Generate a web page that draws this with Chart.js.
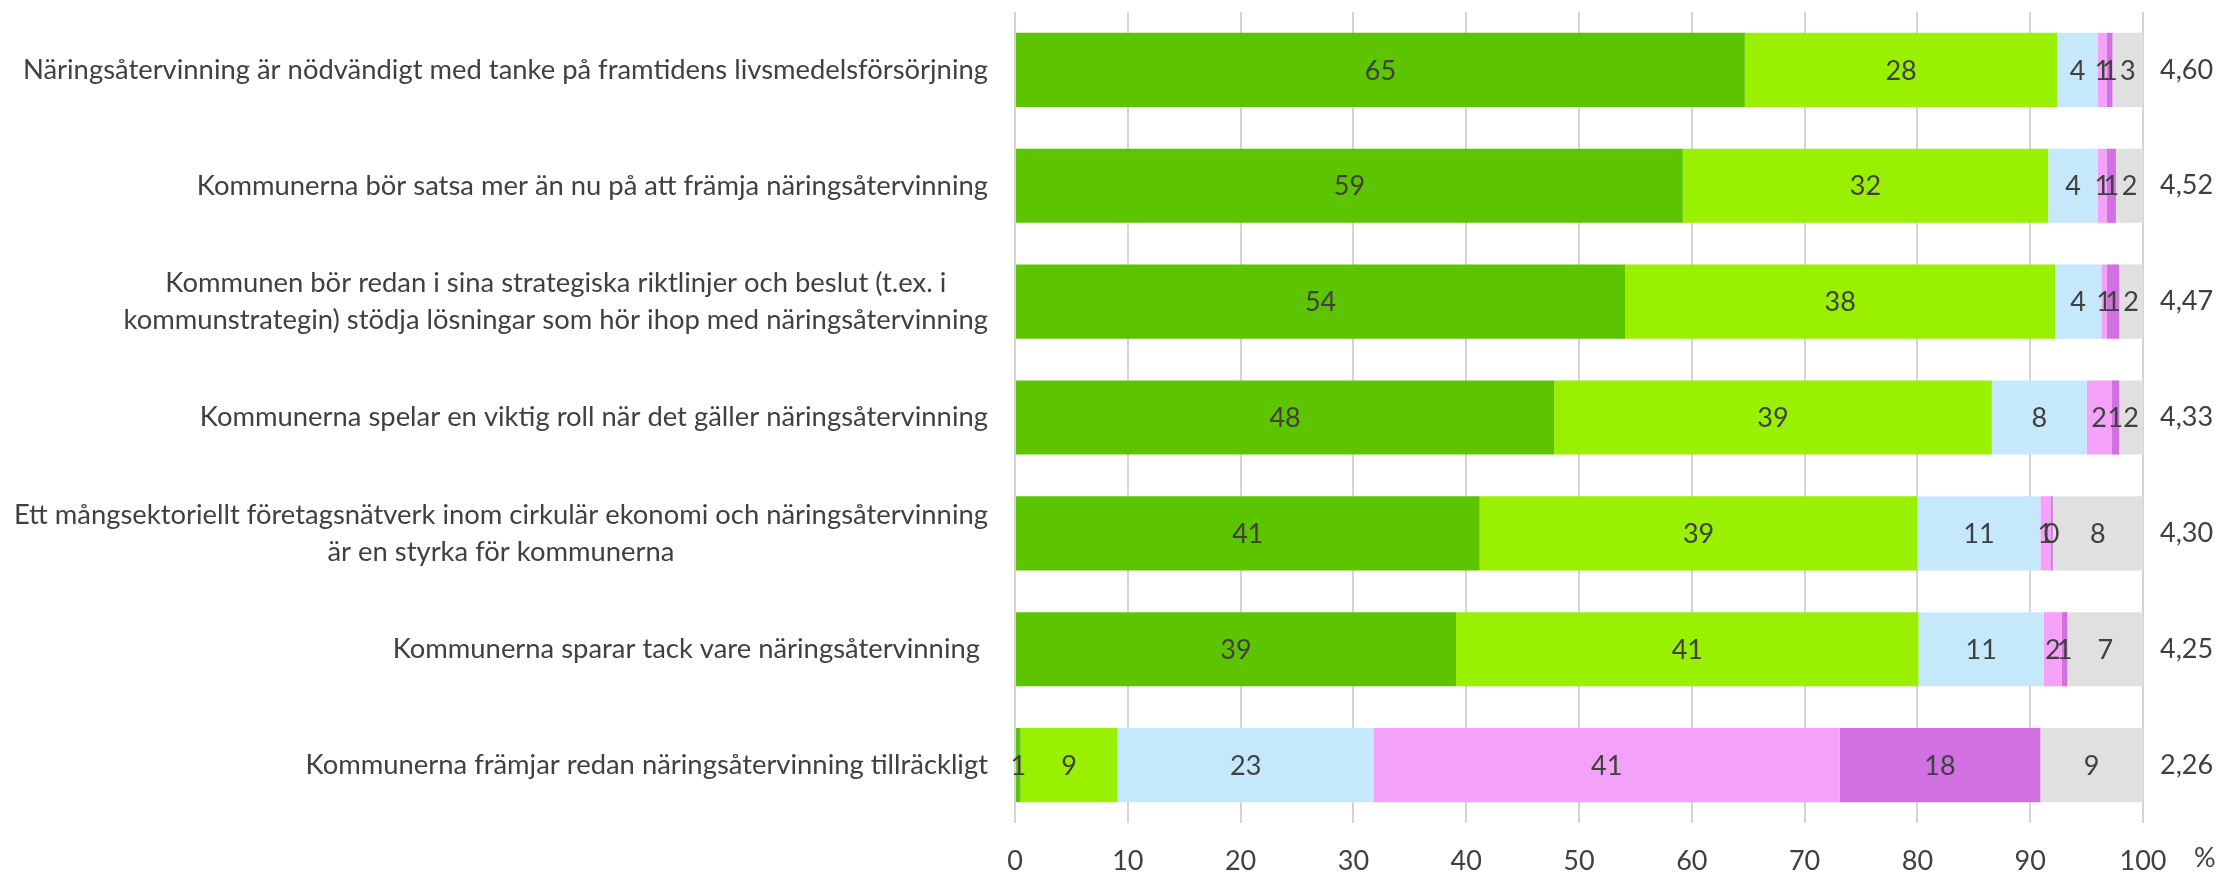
<!DOCTYPE html>
<html>
<head>
<meta charset="utf-8">
<script src="https://cdn.jsdelivr.net/npm/chart.js@4.4.1/dist/chart.umd.min.js"></script>
<style>
  html, body { margin: 0; padding: 0; background: #fff; }
  canvas { display: block; }
</style>
</head>
<body>
<canvas id="chart" width="2229" height="879"></canvas>
<script>
// --- Data ---
const statements = [
  ['Näringsåtervinning är nödvändigt med tanke på framtidens livsmedelsförsörjning'],
  ['Kommunerna bör satsa mer än nu på att främja näringsåtervinning'],
  ['Kommunen bör redan i sina strategiska riktlinjer och beslut (t.ex. i', 'kommunstrategin) stödja lösningar som hör ihop med näringsåtervinning'],
  ['Kommunerna spelar en viktig roll när det gäller näringsåtervinning'],
  ['Ett mångsektoriellt företagsnätverk inom cirkulär ekonomi och näringsåtervinning', 'är en styrka för kommunerna'],
  ['Kommunerna sparar tack vare näringsåtervinning '],
  ['Kommunerna främjar redan näringsåtervinning tillräckligt']
];
const means = ['4,60', '4,52', '4,47', '4,33', '4,30', '4,25', '2,26'];

const seriesNames = ['Helt av samma åsikt', 'Delvis av samma åsikt', 'Varken eller', 'Delvis av annan åsikt', 'Helt av annan åsikt', 'Kan inte säga'];
const fullyAgree    = [64.7, 59.2, 54.1, 47.8, 41.2, 39.1, 0.5];
const partlyAgree   = [27.7, 32.4, 38.1, 38.8, 38.8, 41.0, 8.6];
const neutral       = [3.6, 4.4, 4.1, 8.4, 10.9, 11.1, 22.7];
const partlyDisagree = [0.8, 0.8, 0.5, 2.2, 0.9, 1.6, 41.3];
const fullyDisagree = [0.5, 0.8, 1.1, 0.7, 0.2, 0.5, 17.8];
const cannotSay     = [2.7, 2.4, 2.1, 2.1, 8.0, 6.7, 9.1];
const xTicks = [0, 10, 20, 30, 40, 50, 60, 70, 80, 90, 100];

const colors = ['#5CC500', '#99F000', '#C5E8FB', '#F4A2F9', '#D170E0', '#E0E0E0'];
const textColor = '#404040';
const FONT = 'Lato, "Open Sans", sans-serif';
const FS = 27;

// --- Plugins ---
const segmentLabels = {
  id: 'segmentLabels',
  afterDatasetsDraw(chart) {
    const ctx = chart.ctx;
    ctx.save();
    ctx.font = `${FS}px ${FONT}`;
    ctx.fillStyle = textColor;
    ctx.textAlign = 'center';
    ctx.textBaseline = 'middle';
    chart.data.datasets.forEach((ds, i) => {
      chart.getDatasetMeta(i).data.forEach((bar, j) => {
        const x = (bar.x + bar.base) / 2;
        ctx.fillText(String(Math.round(ds.data[j])), x, bar.y + 1);
      });
    });
    ctx.restore();
  }
};

// category labels: block right-aligned, lines centred inside the block
const statementLabels = {
  id: 'statementLabels',
  afterDraw(chart) {
    const ctx = chart.ctx;
    const yScale = chart.scales.y;
    const right = chart.chartArea.left - 27;
    const lineH = 37;
    ctx.save();
    ctx.font = `27.4px ${FONT}`;
    ctx.fillStyle = textColor;
    ctx.textAlign = 'center';
    ctx.textBaseline = 'middle';
    statements.forEach((lines, j) => {
      const w = Math.max(...lines.map(l => ctx.measureText(l.trimEnd()).width));
      const trail = lines.length === 1 && lines[0].endsWith(' ') ? 8 : 0;
      const cx = right - trail - w / 2;
      const yc = yScale.getPixelForValue(j);
      lines.forEach((l, k) => {
        ctx.fillText(l.trimEnd(), cx, yc + (k - (lines.length - 1) / 2) * lineH);
      });
    });
    // unit after the x axis
    ctx.textAlign = 'left';
    ctx.font = `${FS}px ${FONT}`;
    ctx.fillText('%', 2194, 858);
    ctx.restore();
  }
};

const ctx = document.getElementById('chart').getContext('2d');
new Chart(ctx, {
  type: 'bar',
  data: {
    labels: statements.map(s => s.join(' ')),
    datasets: [fullyAgree, partlyAgree, neutral, partlyDisagree, fullyDisagree, cannotSay].map((d, i) => ({
      label: seriesNames[i],
      data: d,
      backgroundColor: colors[i],
      borderWidth: 0,
      barPercentage: 0.64,
      categoryPercentage: 1
    }))
  },
  options: {
    indexAxis: 'y',
    responsive: false,
    animation: false,
    layout: { padding: { left: 1015, top: 12, right: 0, bottom: 0 } },
    plugins: {
      legend: { display: false },
      tooltip: { enabled: false }
    },
    scales: {
      x: {
        stacked: true,
        min: 0,
        max: 100,
        afterBuildTicks: scale => { scale.ticks = xTicks.map(v => ({ value: v })); },
        afterFit: scale => { scale.height = 56; scale.paddingLeft = 0; scale.paddingRight = 0; },
        ticks: {
          color: textColor,
          font: { family: FONT, size: FS },
          padding: 22
        },
        grid: { color: '#D4D4D4', lineWidth: 2, drawTicks: false },
        border: { display: false }
      },
      y: {
        stacked: true,
        display: false
      },
      y2: {
        type: 'category',
        labels: means,
        position: 'right',
        offset: true,
        afterFit: scale => { scale.width = 86; scale.paddingTop = 0; scale.paddingBottom = 0; },
        ticks: {
          color: textColor,
          font: { family: FONT, size: FS },
          padding: 17
        },
        grid: { display: false, drawTicks: false },
        border: { display: false }
      }
    }
  },
  plugins: [segmentLabels, statementLabels]
});
</script>
</body>
</html>
